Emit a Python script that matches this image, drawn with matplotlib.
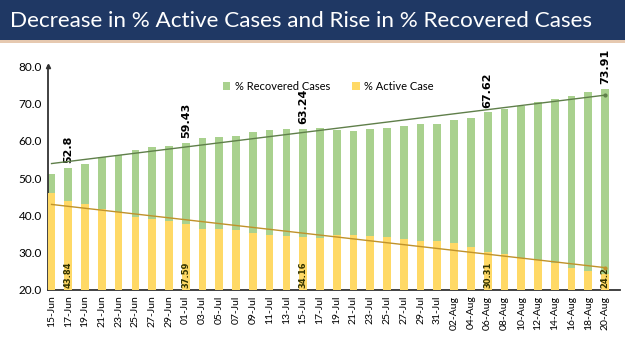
import numpy as np
from matplotlib import pyplot as plt
from matplotlib.patches import Rectangle

dates = ['15-Jun', '17-Jun', '19-Jun', '21-Jun', '23-Jun', '25-Jun', '27-Jun', '29-Jun',
         '01-Jul', '03-Jul', '05-Jul', '07-Jul', '09-Jul', '11-Jul', '13-Jul', '15-Jul',
         '17-Jul', '19-Jul', '21-Jul', '23-Jul', '25-Jul', '27-Jul', '29-Jul', '31-Jul',
         '02-Aug', '04-Aug', '06-Aug', '08-Aug', '10-Aug', '12-Aug', '14-Aug', '16-Aug',
         '18-Aug', '20-Aug']
recovered = [51.1, 52.8, 53.7, 55.5, 56.3, 57.4, 58.2, 58.7,
             59.43, 60.7, 60.9, 61.2, 62.2, 62.8, 63.1, 63.24,
             63.4, 62.8, 62.7, 63.2, 63.5, 63.9, 64.5, 64.6,
             65.5, 66.2, 67.62, 68.4, 69.4, 70.3, 71.2, 72.0,
             73.1, 73.91]
active = [46.0, 43.84, 43.0, 41.6, 40.8, 39.6, 38.9, 38.4,
          37.59, 36.4, 36.3, 36.0, 35.2, 34.7, 34.4, 34.16,
          34.0, 34.7, 34.7, 34.4, 34.1, 33.6, 33.1, 33.2,
          32.5, 31.6, 30.31, 29.6, 28.6, 28.0, 27.1, 26.0,
          25.0, 24.2]
labelled = ['17-Jun', '01-Jul', '15-Jul', '06-Aug', '20-Aug']

green = '#A9D18E'
yellow = '#FFD966'
base = 20.0

fig = plt.figure(figsize=(6.25, 3.51), dpi=100)
fig.patches.append(Rectangle((0, 1 - 40 / 351), 1, 40 / 351, transform=fig.transFigure,
                             facecolor='#1F3864', edgecolor='none', zorder=0))
fig.patches.append(Rectangle((0, 1 - 42.5 / 351), 1, 2 / 351, transform=fig.transFigure,
                             facecolor='#E6C9B0', edgecolor='none', zorder=0))
fig.text(0.016, 1 - 21 / 351, 'Decrease in % Active Cases and Rise in % Recovered Cases',
         color='white', fontsize=16.2, family='Lato', va='center', ha='left')

ax = fig.add_axes([0.0763, 0.1738, 0.916, 0.638])
x = np.arange(len(dates))
w = 0.46
ax.bar(x, np.array(recovered) - base, w, bottom=base, color=green, label='% Recovered Cases', zorder=2)
ax.bar(x, np.array(active) - base, w, bottom=base, color=yellow, label='% Active Case', zorder=3)

# linear trend lines
pr = np.polyfit(x, recovered, 1)
pa = np.polyfit(x, active, 1)
ax.plot(x, np.polyval(pr, x), color='#5F7F4A', lw=1.0, zorder=4)
ax.plot(x, np.polyval(pa, x), color='#C0922A', lw=1.0, zorder=4)
ax.plot(x[-1], np.polyval(pr, x[-1]), 'o', color='#5F7F4A', ms=2, zorder=4)
ax.plot(x[-1], np.polyval(pa, x[-1]), 'o', color='#C0922A', ms=2, zorder=4)

for i, d in enumerate(dates):
    if d in labelled:
        r = recovered[i]
        a = active[i]
        ax.text(i, r + 1.2, f'{r:g}', rotation=90, ha='center', va='bottom',
                fontsize=8, fontweight='bold', family='DejaVu Sans')
        ax.text(i, base + 0.6, f'{a:g}', rotation=90, ha='center', va='bottom',
                fontsize=6, fontweight='bold', family='DejaVu Sans', color='#333300')

ax.set_xlim(-0.23, 33.9)
ax.set_ylim(20, 80)
ax.set_yticks(np.arange(20, 81, 10))
ax.set_yticklabels([f'{v:.1f}' for v in np.arange(20, 81, 10)], family='Lato', fontsize=8.5)
ax.set_xticks(x)
ax.set_xticklabels(dates, rotation=90, family='Lato', fontsize=7.5)
ax.tick_params(length=0, pad=4)
for s in ['top', 'right']:
    ax.spines[s].set_visible(False)
for s in ['left', 'bottom']:
    ax.spines[s].set_color('#333333')
    ax.spines[s].set_linewidth(1.3)
ax.plot(-0.23, 80, marker='^', color='#333333', ms=3, clip_on=False, zorder=5)

leg = ax.legend(loc='upper center', bbox_to_anchor=(0.49, 0.98), ncol=2, frameon=False,
                prop={'family': 'Lato', 'size': 8}, handlelength=0.7, handleheight=0.7,
                columnspacing=2.0, handletextpad=0.4)

plt.savefig('out.png', dpi=100)
